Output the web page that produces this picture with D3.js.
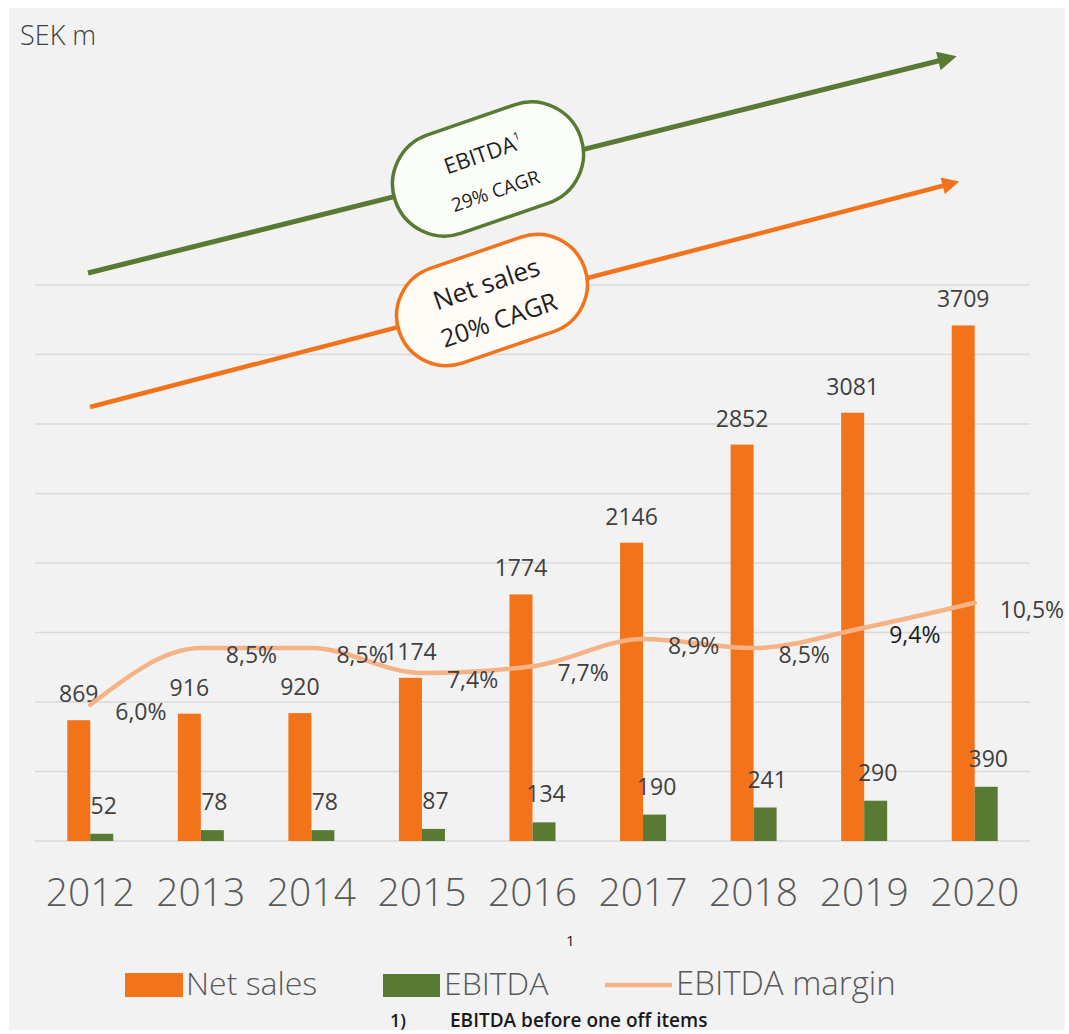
<!DOCTYPE html>
<meta charset="utf-8">
<script src="https://d3js.org/d3.v7.min.js"></script>
<style>
  body { margin: 0; background: #fff; }
  text { font-family: "Open Sans", "Noto Sans", sans-serif; }
</style>
<body>
<div id="container"></div>
<script>
// values
var years = ["2012", "2013", "2014", "2015", "2016", "2017", "2018", "2019", "2020"];
var netSales = [869, 916, 920, 1174, 1774, 2146, 2852, 3081, 3709];
var ebitda = [52, 78, 78, 87, 134, 190, 241, 290, 390];
var margin = [6.0, 8.5, 8.5, 7.4, 7.7, 8.9, 8.5, 9.4, 10.5];
var marginLabels = ["6,0%", "8,5%", "8,5%", "7,4%", "7,7%", "8,9%", "8,5%", "9,4%", "10,5%"];
var gridTicks = [0, 500, 1000, 1500, 2000, 2500, 3000, 3500, 4000];
var seriesNames = ["Net sales", "EBITDA"];

var W = 1069, H = 1034;
var orange = "#f2731a", green = "#587a33", lineCol = "#f5b285";

var svg = d3.select("#container").append("svg")
  .attr("width", W).attr("height", H);

svg.append("rect").attr("x", 9).attr("y", 8)
  .attr("width", 1056).attr("height", 1022).attr("fill", "#f2f2f2");

// scales
var x = d3.scaleBand().domain(years).range([35, 1030]);
var sub = d3.scaleBand().domain(seriesNames).range([-23, 23]);
var y = d3.scaleLinear().domain([0, 4000]).range([841, 285]);
var y2 = d3.scaleLinear().domain([0, 24.5]).range([841, 285]);
function cx(i) { return x(years[i]) + x.bandwidth() / 2; }

// gridlines
svg.append("g").selectAll("line").data(gridTicks).enter().append("line")
  .attr("x1", 35).attr("x2", 1030)
  .attr("y1", function(d) { return y(d); }).attr("y2", function(d) { return y(d); })
  .attr("stroke", "#d9d9d9").attr("stroke-width", 1.3);

svg.append("text").attr("x", 20).attr("y", 45)
  .attr("font-size", 27).attr("font-weight", 300).attr("fill", "#404040").text("SEK m");

// arrow heads
var defs = svg.append("defs");
[["ga", green], ["oa", orange]].forEach(function(m) {
  defs.append("marker").attr("id", m[0])
    .attr("viewBox", "0 0 10 10").attr("refX", 2).attr("refY", 5)
    .attr("markerWidth", 4.4).attr("markerHeight", 3.8)
    .attr("orient", "auto").attr("markerUnits", "strokeWidth")
    .append("path").attr("d", "M0,0L10,5L0,10z").attr("fill", m[1]);
});

svg.append("line").attr("x1", 88).attr("y1", 273).attr("x2", 942).attr("y2", 60)
  .attr("stroke", green).attr("stroke-width", 5).attr("marker-end", "url(#ga)");
svg.append("line").attr("x1", 90).attr("y1", 407).attr("x2", 946).attr("y2", 185)
  .attr("stroke", orange).attr("stroke-width", 4.5).attr("marker-end", "url(#oa)");

// CAGR pills
function pill(cxp, cyp, w, h, col, fill, l1, l2, fs1, fs2, sup) {
  var g = svg.append("g").attr("transform", "translate(" + cxp + "," + cyp + ") rotate(-19)");
  g.append("rect").attr("x", -w / 2).attr("y", -h / 2).attr("width", w).attr("height", h)
    .attr("rx", h / 2).attr("ry", h / 2)
    .attr("fill", fill).attr("stroke", col).attr("stroke-width", 3.5);
  var t = g.append("text").attr("text-anchor", "middle").attr("y", -8)
    .attr("font-size", fs1).attr("fill", "#1f1f1f").text(l1);
  if (sup) t.append("tspan").attr("font-size", 11).attr("dy", -10).text(sup);
  g.append("text").attr("text-anchor", "middle").attr("y", 30)
    .attr("font-size", fs2).attr("fill", "#1f1f1f").text(l2);
}
pill(488, 169, 196, 104, green, "#fbfdf8", "EBITDA", "29% CAGR", 22, 19, "1");
pill(492, 300, 196, 100, orange, "#fffbf7", "Net sales", "20% CAGR", 26, 25, null);

// bars
var bars = svg.append("g");
bars.selectAll(".ns").data(netSales).enter().append("rect")
  .attr("x", function(d, i) { return cx(i) + sub("Net sales"); })
  .attr("y", function(d) { return y(d); })
  .attr("width", sub.bandwidth())
  .attr("height", function(d) { return y(0) - y(d); })
  .attr("fill", orange);
bars.selectAll(".eb").data(ebitda).enter().append("rect")
  .attr("x", function(d, i) { return cx(i) + sub("EBITDA"); })
  .attr("y", function(d) { return y(d); })
  .attr("width", sub.bandwidth())
  .attr("height", function(d) { return y(0) - y(d); })
  .attr("fill", green);

// EBITDA labels
svg.append("g").selectAll("text").data(ebitda).enter().append("text")
  .attr("x", function(d, i) { return cx(i) + sub("EBITDA") + sub.bandwidth() / 2 + 2; })
  .attr("y", function(d) { return y(d) - 20; })
  .attr("text-anchor", "middle").attr("font-size", 23).attr("fill", "#404040")
  .text(function(d) { return d; });

// net sales labels
svg.append("g").selectAll("text").data(netSales).enter().append("text")
  .attr("x", function(d, i) { return cx(i) + sub("Net sales") + sub.bandwidth() / 2; })
  .attr("y", function(d) { return y(d) - 18; })
  .attr("text-anchor", "middle").attr("font-size", 23).attr("fill", "#404040")
  .text(function(d) { return d; });

// margin line
var line = d3.line()
  .x(function(d, i) { return cx(i); })
  .y(function(d) { return y2(d); })
  .curve(d3.curveMonotoneX);
svg.append("path").datum(margin).attr("d", line)
  .attr("fill", "none").attr("stroke", lineCol).attr("stroke-width", 4.5)
  .attr("stroke-linecap", "round");

svg.append("g").selectAll("text").data(margin).enter().append("text")
  .attr("x", function(d, i) { return cx(i) + 25; })
  .attr("y", function(d) { return y2(d) + 15; })
  .attr("font-size", 23)
  .attr("fill", function(d, i) { return i === 7 ? "#1a1a1a" : "#404040"; })
  .text(function(d, i) { return marginLabels[i]; });

// x axis labels
svg.append("g").selectAll("text").data(years).enter().append("text")
  .attr("x", function(d, i) { return cx(i); })
  .attr("y", 906)
  .attr("text-anchor", "middle").attr("font-size", 39).attr("font-weight", 300)
  .attr("fill", "#595959")
  .text(function(d) { return d; });

// legend
var lg = svg.append("g");
lg.append("rect").attr("x", 125).attr("y", 973).attr("width", 58).attr("height", 24).attr("fill", orange);
lg.append("text").attr("x", 186).attr("y", 995).attr("font-size", 32).attr("font-weight", 300)
  .attr("fill", "#595959").text("Net sales");
lg.append("rect").attr("x", 383).attr("y", 974).attr("width", 57).attr("height", 23).attr("fill", green);
lg.append("text").attr("x", 444).attr("y", 995).attr("font-size", 32).attr("font-weight", 300)
  .attr("fill", "#595959").text("EBITDA");
lg.append("text").attr("x", 566).attr("y", 946).attr("font-size", 15)
  .attr("fill", "#262626").text("1");
lg.append("line").attr("x1", 605).attr("x2", 672).attr("y1", 985).attr("y2", 985)
  .attr("stroke", lineCol).attr("stroke-width", 4.5);
lg.append("text").attr("x", 676).attr("y", 995).attr("font-size", 33).attr("font-weight", 300)
  .attr("fill", "#595959").text("EBITDA margin");

svg.append("text").attr("x", 390).attr("y", 1027).attr("font-size", 18).attr("font-weight", 600)
  .attr("fill", "#1a1a1a").text("1)");
svg.append("text").attr("x", 450).attr("y", 1027).attr("font-size", 19).attr("font-weight", 600)
  .attr("fill", "#1a1a1a").text("EBITDA before one off items");
</script>
</body>
